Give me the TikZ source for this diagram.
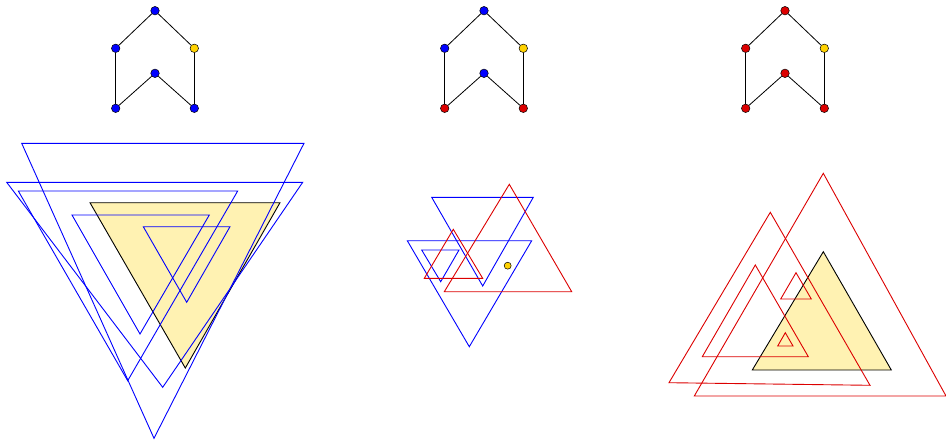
\documentclass[tikz,border=0pt]{standalone}
\usepackage{tikz}
\definecolor{vblue}{RGB}{0,0,255}
\definecolor{vred}{RGB}{220,0,0}
\definecolor{vyel}{RGB}{255,210,0}
\definecolor{tfill}{RGB}{255,242,178}
\tikzset{
  vtx/.style={circle,draw=black,line width=0.5pt,inner sep=0pt,minimum size=8.5pt},
  vb/.style={vtx,fill=vblue},
  vr/.style={vtx,fill=vred},
  vy/.style={vtx,fill=vyel},
  gedge/.style={draw=black,line width=0.8pt},
  btri/.style={draw=vblue,line width=0.9pt},
  rtri/.style={draw=vred,line width=0.9pt},
  ytri/.style={draw=black,fill=tfill,line width=0.9pt},
}
\begin{document}
\begin{tikzpicture}[x=1pt,y=-1pt]
\useasboundingbox (0,0) rectangle (946,444);
% ---------- graphs ----------
\foreach \dx/\ta/\la/\ma/\bl/\br [count=\i] in {0/vb/vb/vb/vb/vb, 329/vb/vb/vb/vr/vr, 630/vr/vr/vr/vr/vr}{
  \node[\ta] (t\i) at (155+\dx,10.7) {};
  \node[\la] (l\i) at (115.7+\dx,48.3) {};
  \node[vy]  (r\i) at (194.3+\dx,48.3) {};
  \node[\ma] (m\i) at (155+\dx,73.3) {};
  \node[\bl] (a\i) at (115.7+\dx,108.3) {};
  \node[\br] (b\i) at (194.3+\dx,108.3) {};
}
\foreach \i in {1,2,3}{
  \path[gedge] (t\i) -- (l\i);
  \path[gedge] (t\i) -- (r\i);
  \path[gedge] (l\i) -- (a\i);
  \path[gedge] (r\i) -- (b\i);
  \path[gedge] (a\i) -- (m\i);
  \path[gedge] (m\i) -- (b\i);
}
% ---------- panel 1 ----------
\path[ytri] (90,202.7) -- (280,202.7) -- (185.3,368) -- cycle;
\path[btri] (21.7,143.3) -- (304,143.3) -- (154,438.3) -- cycle;
\path[btri] (6.7,182.3) -- (302.7,182.3) -- (162.7,387.3) -- cycle;
\path[btri] (18.3,191) -- (237.7,191) -- (127.7,380.7) -- cycle;
\path[btri] (72,215) -- (209.3,215) -- (140,334) -- cycle;
\path[btri] (143.3,226.7) -- (230,226.7) -- (186.7,302.3) -- cycle;
% ---------- panel 2 ----------
\path[btri] (431.7,197.3) -- (533.3,197.3) -- (482.7,286) -- cycle;
\path[btri] (407.3,240.7) -- (531.7,240.7) -- (469.3,346.7) -- cycle;
\path[btri] (421.7,250) -- (459,250) -- (440.7,281.7) -- cycle;
\path[rtri] (509.3,184.3) -- (444.3,291.7) -- (571.7,291.7) -- cycle;
\path[rtri] (453.3,229.3) -- (424.3,278.3) -- (482.7,278.3) -- cycle;
\node[vtx,fill=vyel,minimum size=7pt] (dot) at (507.7,265.7) {};
% ---------- panel 3 ----------
\path[ytri] (823.3,251.7) -- (752.3,370) -- (891.3,370) -- cycle;
\path[rtri] (823.3,173.3) -- (694.3,396) -- (946,396) -- cycle;
\path[rtri] (770.3,212.3) -- (669,382.7) -- (870,385.3) -- cycle;
\path[rtri] (755.3,265) -- (702.3,356.7) -- (808.3,356.7) -- cycle;
\path[rtri] (796,272.7) -- (780.7,299) -- (811.3,299) -- cycle;
\path[rtri] (785.3,332.7) -- (777.7,346) -- (793,346) -- cycle;
\end{tikzpicture}
\end{document}
